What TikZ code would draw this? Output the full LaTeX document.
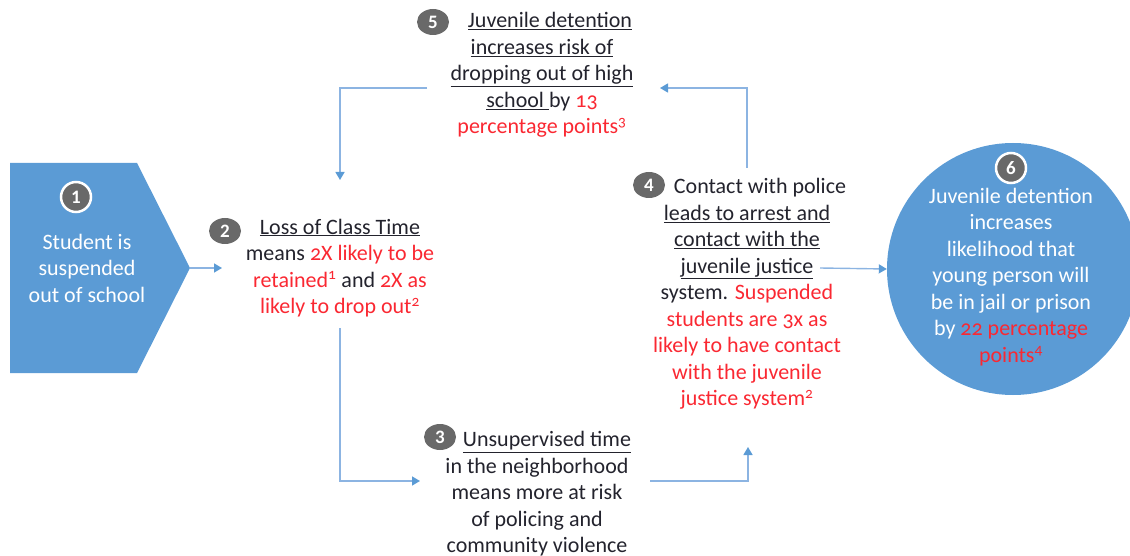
\documentclass[tikz,border=0pt]{standalone}
\usepackage{fontspec}
\setmainfont{Carlito}[Numbers=OldStyle]
\usepackage{tikz}
\usetikzlibrary{shapes.geometric,arrows.meta}
\definecolor{blueF}{RGB}{91,155,213}
\definecolor{lineC}{RGB}{140,180,226}
\definecolor{redT}{RGB}{250,40,50}
\definecolor{darkT}{RGB}{35,35,45}
\definecolor{badgeG}{RGB}{105,105,105}
\newcommand{\rd}[1]{\textcolor{redT}{#1}}
\tikzset{
  txt/.style={align=center, text=darkT, inner sep=4pt, font=\fontsize{22}{26.5}\selectfont},
  badge/.style={ellipse, fill=badgeG, text=white, inner sep=0, minimum width=32pt, minimum height=26pt, font=\fontsize{19}{19}\selectfont\bfseries\addfontfeatures{Numbers=Lining}},
  ringbadge/.style={circle, fill=badgeG, draw=white, line width=2.5pt, text=white, inner sep=0, minimum size=30pt, font=\fontsize{19}{19}\selectfont\bfseries\addfontfeatures{Numbers=Lining}},
  flow/.style={draw=lineC, line width=1.4pt, -{Triangle[width=9pt,length=8pt,color=blueF]}}
}

\begin{document}
\begin{tikzpicture}[x=1pt,y=-1pt]
            \useasboundingbox (0,0) rectangle (1130,556);
            % step 1: the pointed box
            \fill[blueF] (10,163) -- (137,163) -- (190,268) -- (137,373) -- (10,373) -- cycle;
            \coordinate (s1) at (190,268);
            \node[ringbadge] (b1) at (76,197) {1};
            \node[txt, text=white] (n1) at (87,268) {Student is\\suspended\\out of school};

            \node[txt] (n2) at (340,268) {\underline{Loss of Class Time}\\means \rd{2X likely to be}\\\rd{retained\textsuperscript{1}} and \rd{2X as}\\\rd{likely to drop out\textsuperscript{2}}};
            \node[badge] (b2) at (225,231) {2};

            \node[txt] (n3) at (537,494) {\hspace*{20pt}\underline{Unsupervised time}\\in the neighborhood\\means more at risk\\of policing and\\community violence};
            \node[badge] (b3) at (440,437) {3};

            \node[txt] (n4) at (747,294) {\hspace*{26pt}Contact with police\\\underline{leads to arrest and}\\\underline{contact with the}\\\underline{juvenile justice}\\system. \rd{Suspended}\\\rd{students are 3x as}\\\rd{likely to have contact}\\\rd{with the juvenile}\\\rd{justice system\textsuperscript{2}}};
            \node[badge] (b4) at (649,185) {4};

            \node[txt] (n5) at (542,75) {\hspace*{16pt}\underline{Juvenile detention}\\\underline{increases risk of}\\\underline{dropping out of high}\\\underline{school }by \rd{13}\\\rd{percentage points\textsuperscript{3}}};
            \node[badge] (b5) at (433,22) {5};

            % step 6: the circle
            \node[circle, fill=blueF, minimum size=252pt, inner sep=0] (n6) at (1013,269) {};
            \node[txt, text=white] (t6) at (1011,277) {Juvenile detention\\increases\\likelihood that\\young person will\\be in jail or prison\\by \rd{22 percentage}\\\rd{points\textsuperscript{4}}};
            \node[ringbadge] (b6) at (1011,168) {6};

            \coordinate (c2in) at (340,180);
            \coordinate (c2left) at (222,268);
            \coordinate (c2out) at (340,328);
            \coordinate (c3in) at (420,481);
            \coordinate (c3out) at (650,481);
            \coordinate (c4in) at (748,447);
            \coordinate (c4top) at (747,168);
            \coordinate (c4out) at (820,268);
            \coordinate (c5in) at (660,88);
            \coordinate (c5out) at (427,88);

            \draw[flow] (s1) -- (c2left);
            \draw[flow] (c2out) |- (c3in);
            \draw[flow] (c3out) -| (c4in);
            \draw[flow] (c4top) |- (c5in);
            \draw[flow] (c5out) -| (c2in);
            \draw[flow] (c4out) -- (n6.west);
\end{tikzpicture}
\end{document}
